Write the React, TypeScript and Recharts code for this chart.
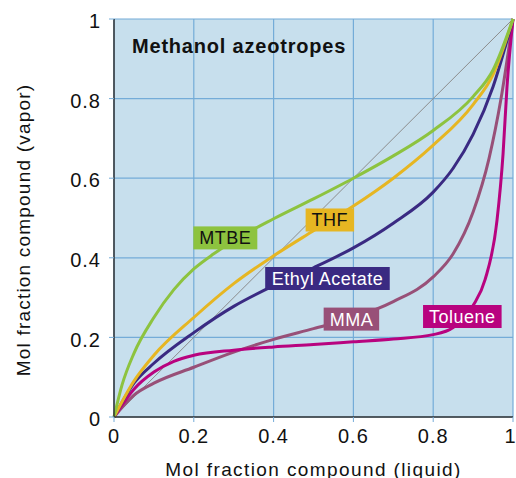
import React from 'react';
import { LineChart, Line, XAxis, YAxis, CartesianGrid, ReferenceDot } from 'recharts';

// x = mol fraction in liquid, y = mol fraction in vapor
const mtbe = [
  { x: 0, y: 0 }, { x: 0.02, y: 0.08 }, { x: 0.05, y: 0.16 }, { x: 0.1, y: 0.25 },
  { x: 0.15, y: 0.32 }, { x: 0.2, y: 0.372 }, { x: 0.25, y: 0.41 }, { x: 0.3, y: 0.443 },
  { x: 0.4, y: 0.498 }, { x: 0.5, y: 0.548 }, { x: 0.6, y: 0.6 }, { x: 0.7, y: 0.656 },
  { x: 0.8, y: 0.72 }, { x: 0.9, y: 0.805 }, { x: 0.95, y: 0.872 }, { x: 1, y: 1 },
];
const thf = [
  { x: 0, y: 0 }, { x: 0.05, y: 0.09 }, { x: 0.1, y: 0.155 }, { x: 0.2, y: 0.25 },
  { x: 0.3, y: 0.335 }, { x: 0.4, y: 0.405 }, { x: 0.5, y: 0.468 }, { x: 0.6, y: 0.53 },
  { x: 0.7, y: 0.6 }, { x: 0.8, y: 0.683 }, { x: 0.9, y: 0.785 }, { x: 0.95, y: 0.86 },
  { x: 1, y: 1 },
];
const ethylAcetate = [
  { x: 0, y: 0 }, { x: 0.05, y: 0.085 }, { x: 0.1, y: 0.135 }, { x: 0.2, y: 0.212 },
  { x: 0.3, y: 0.278 }, { x: 0.4, y: 0.33 }, { x: 0.5, y: 0.375 }, { x: 0.6, y: 0.425 },
  { x: 0.7, y: 0.487 }, { x: 0.8, y: 0.565 }, { x: 0.85, y: 0.625 }, { x: 0.9, y: 0.71 },
  { x: 0.95, y: 0.83 }, { x: 1, y: 1 },
];
const mma = [
  { x: 0, y: 0 }, { x: 0.05, y: 0.055 }, { x: 0.1, y: 0.085 }, { x: 0.2, y: 0.125 },
  { x: 0.3, y: 0.163 }, { x: 0.4, y: 0.195 }, { x: 0.5, y: 0.222 }, { x: 0.6, y: 0.25 },
  { x: 0.7, y: 0.29 }, { x: 0.8, y: 0.352 }, { x: 0.85, y: 0.41 }, { x: 0.9, y: 0.515 },
  { x: 0.94, y: 0.65 }, { x: 0.97, y: 0.8 }, { x: 1, y: 1 },
];
const toluene = [
  { x: 0, y: 0 }, { x: 0.05, y: 0.07 }, { x: 0.1, y: 0.113 }, { x: 0.15, y: 0.14 },
  { x: 0.2, y: 0.155 }, { x: 0.3, y: 0.168 }, { x: 0.4, y: 0.176 }, { x: 0.5, y: 0.182 },
  { x: 0.6, y: 0.189 }, { x: 0.7, y: 0.196 }, { x: 0.8, y: 0.207 }, { x: 0.85, y: 0.225 },
  { x: 0.9, y: 0.28 }, { x: 0.93, y: 0.345 }, { x: 0.96, y: 0.495 }, { x: 0.975, y: 0.66 },
  { x: 0.985, y: 0.83 }, { x: 1, y: 1 },
];
const diagonal = [{ x: 0, y: 0 }, { x: 1, y: 1 }];

const ticks = [0, 0.2, 0.4, 0.6, 0.8, 1];

// label boxes placed in data coordinates
const labels = [
  { name: 'MTBE', x: 0.279, y: 0.45, color: '#8dc33f', text: '#111' },
  { name: 'THF', x: 0.541, y: 0.495, color: '#e6b622', text: '#111' },
  { name: 'Ethyl Acetate', x: 0.535, y: 0.348, color: '#3a2a82', text: '#fff' },
  { name: 'MMA', x: 0.595, y: 0.246, color: '#985078', text: '#fff' },
  { name: 'Toluene', x: 0.873, y: 0.2525, color: '#b8037f', text: '#fff' },
];

const FONT = '"Liberation Sans", Arial, Helvetica, sans-serif';
const GRID = '#74acd8';

let ctx: CanvasRenderingContext2D | null = null;
const measure = (s: string) => {
  if (!ctx) ctx = document.createElement('canvas').getContext('2d');
  if (!ctx) return s.length * 10;
  ctx.font = `18px ${FONT}`;
  return ctx.measureText(s).width + s.length * 0.5;
};

const labelShape = (l: typeof labels[number]) => (props: any) => {
  const { cx, cy } = props;
  const w = measure(l.name) + 12;
  const h = 23;
  return (
    <g>
      <rect x={cx - w / 2} y={cy - h / 2} width={w} height={h} fill={l.color} />
      <text x={cx} y={cy + 6.5} textAnchor="middle" fontSize={18} letterSpacing={0.5}
        fontFamily={FONT} fill={l.text}>
        {l.name}
      </text>
    </g>
  );
};

const series = [
  { key: 'MMA', data: mma, color: '#985078' },
  { key: 'Toluene', data: toluene, color: '#b8037f' },
  { key: 'Ethyl Acetate', data: ethylAcetate, color: '#3a2a82' },
  { key: 'THF', data: thf, color: '#e6b622' },
  { key: 'MTBE', data: mtbe, color: '#8dc33f' },
];

export default function App() {
  return (
    <div style={{ position: 'absolute', left: 0, top: 0, width: 516, height: 478 }}>
      <LineChart width={516} height={478} margin={{ top: 19, right: 3, left: 0, bottom: 0 }}>
        <CartesianGrid fill="#c7dfed" stroke={GRID} strokeWidth={1.2} />
        <XAxis
          type="number"
          dataKey="x"
          domain={[0, 1]}
          ticks={ticks}
          height={61}
          tickSize={5}
          tickMargin={7}
          axisLine={{ stroke: '#333', strokeWidth: 1.5 }}
          tickLine={{ stroke: GRID }}
          tick={{ fill: '#111', fontSize: 20, letterSpacing: 1, fontFamily: FONT }}
          label={{
            content: (p: any) => (
              <text x={p.viewBox.x + p.viewBox.width / 2} y={p.viewBox.y + 59} textAnchor="middle"
                fontSize={19} letterSpacing={1.4} fontFamily={FONT} fill="#111">
                Mol fraction compound (liquid)
              </text>
            ),
          }}
        />
        <YAxis
          type="number"
          domain={[0, 1]}
          ticks={ticks}
          width={114}
          tickSize={5}
          tickMargin={8}
          axisLine={{ stroke: '#333', strokeWidth: 1.5 }}
          tickLine={{ stroke: GRID }}
          tick={{ fill: '#111', fontSize: 20, letterSpacing: 1, fontFamily: FONT, dy: 2 }}
          label={{
            content: (p: any) => {
              const cx = p.viewBox.x + 30;
              const cy = p.viewBox.y + p.viewBox.height / 2 + 12;
              return (
                <text x={cx} y={cy} transform={`rotate(-90 ${cx} ${cy})`} textAnchor="middle"
                  fontSize={19} letterSpacing={1.2} fontFamily={FONT} fill="#111">
                  Mol fraction compound (vapor)
                </text>
              );
            },
          }}
        />
        <Line data={diagonal} dataKey="y" type="linear" stroke="#8c8c8c" strokeWidth={1}
          dot={false} isAnimationActive={false} />
        {series.map((s) => (
          <Line key={s.key} data={s.data} dataKey="y" name={s.key} type="monotone" stroke={s.color}
            strokeWidth={3} dot={false} isAnimationActive={false} />
        ))}
        {labels.map((l) => (
          <ReferenceDot key={l.name} x={l.x} y={l.y} ifOverflow="visible" shape={labelShape(l)} />
        ))}
      </LineChart>
      <svg width={516} height={478} style={{ position: 'absolute', left: 0, top: 0, pointerEvents: 'none' }}>
        <text x={132} y={53} fontSize={20} fontWeight="bold" letterSpacing={0.8} fontFamily={FONT} fill="#111">
          Methanol azeotropes
        </text>
      </svg>
    </div>
  );
}
